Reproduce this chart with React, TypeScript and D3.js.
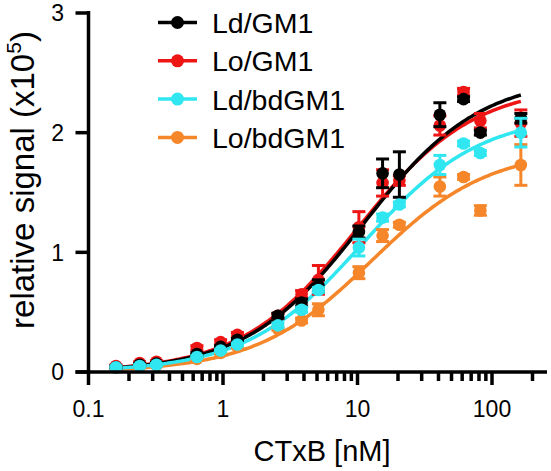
import React from "react";
import * as d3 from "d3";

// ---- data ----
const concentrations = [0.16, 0.24, 0.32, 0.64, 0.96, 1.28, 2.56, 3.84, 5.12, 10.24, 15.36, 20.48, 40.96, 61.44, 81.92, 163.84];

const ldGM1 = [0.04, 0.06, 0.07, 0.15, 0.21, 0.27, 0.47, 0.58, 0.72, 1.17, 1.66, 1.65, 2.15, 2.28, 2.0, 2.12];
const ldGM1Err = [0.01, 0.01, 0.01, 0.01, 0.01, 0.01, 0.02, 0.03, 0.05, 0.05, 0.12, 0.19, 0.1, 0.02, 0.02, 0.04];

const loGM1 = [0.05, 0.075, 0.085, 0.2, 0.25, 0.31, 0.47, 0.65, 0.77, 1.21, 1.58, 1.6, 2.06, 2.34, 2.1, 2.08];
const loGM1Err = [0.01, 0.01, 0.01, 0.02, 0.02, 0.02, 0.02, 0.03, 0.12, 0.13, 0.11, 0.04, 0.08, 0.03, 0.06, 0.11];

const ldBdGM1 = [0.04, 0.05, 0.06, 0.125, 0.18, 0.23, 0.39, 0.52, 0.685, 1.04, 1.29, 1.4, 1.73, 1.91, 1.83, 2.0];
const ldBdGM1Err = [0.01, 0.01, 0.01, 0.01, 0.01, 0.01, 0.02, 0.02, 0.02, 0.07, 0.03, 0.02, 0.08, 0.02, 0.02, 0.12];

const loBdGM1 = [0.04, 0.045, 0.055, 0.11, 0.16, 0.21, 0.36, 0.43, 0.52, 0.83, 1.14, 1.23, 1.55, 1.63, 1.35, 1.73];
const loBdGM1Err = [0.01, 0.01, 0.01, 0.01, 0.01, 0.01, 0.01, 0.02, 0.05, 0.05, 0.05, 0.02, 0.08, 0.02, 0.04, 0.17];

const seriesNames = ["Ld/GM1", "Lo/GM1", "Ld/bdGM1", "Lo/bdGM1"];
// one-site binding fit parameters (Bmax, Kd) per series
const fitBmax = [2.47, 2.4, 2.155, 1.865];
const fitKd = [11, 10, 11, 12.8];

const xTickLabels = ["0.1", "1", "10", "100"];
const yTickLabels = ["0", "1", "2", "3"];

const xTitle = "CTxB [nM]";

export default function App() {
  const W = 551, H = 471;
  const colors = ["#000000", "#ee1515", "#30e6f0", "#f6862a"];
  const values = [ldGM1, loGM1, ldBdGM1, loBdGM1];
  const errors = [ldGM1Err, loGM1Err, ldBdGM1Err, loBdGM1Err];

  const x = d3.scaleLog().domain([0.1, 200]).range([88.5, 532.5]);
  const y = d3.scaleLinear().domain([0, 3]).range([372, 13]);

  const axisY = y(0);
  const axisX = x(0.1);
  const font = "Helvetica, Arial, 'Liberation Sans', sans-serif";

  // tick positions
  const minorTicks: number[] = [];
  for (let e = -1; e <= 2; e++) {
    for (let m = 1; m <= 9; m++) {
      const v = m * Math.pow(10, e);
      if (v <= 200 + 1e-9) minorTicks.push(v);
    }
  }
  const majorValues = xTickLabels.map((t) => +t);

  const curve = (i: number) => {
    const l0 = Math.log10(concentrations[0]);
    const l1 = Math.log10(concentrations[concentrations.length - 1]);
    const xs = d3.range(0, 201).map((k) => Math.pow(10, l0 + (k / 200) * (l1 - l0)));
    const line = d3
      .line<number>()
      .x((c) => x(c))
      .y((c) => y((fitBmax[i] * c) / (fitKd[i] + c)));
    return line(xs) || "";
  };

  const order = [3, 1, 0, 2];
  const sw = 3.5;
  const capHalf = 6.5;

  return (
    <svg width={W} height={H} style={{ position: "absolute", left: 0, top: 0, background: "#fff" }}>
      <rect width={W} height={H} fill="#fff" />
      {/* curves */}
      {order.map((i) => (
        <path key={"c" + i} d={curve(i)} fill="none" stroke={colors[i]} strokeWidth={sw} />
      ))}
      {/* error bars and points */}
      {order.map((i) => (
        <g key={"p" + i} stroke={colors[i]} fill={colors[i]}>
          {concentrations.map((c, j) => {
            const cx = x(c);
            const v = values[i][j];
            const e = errors[i][j];
            const y1 = y(v + e), y2 = y(v - e);
            return (
              <g key={j}>
                <line x1={cx} x2={cx} y1={y1} y2={y2} strokeWidth={3} />
                <line x1={cx - capHalf} x2={cx + capHalf} y1={y1} y2={y1} strokeWidth={3} />
                <line x1={cx - capHalf} x2={cx + capHalf} y1={y2} y2={y2} strokeWidth={3} />
                <circle cx={cx} cy={y(v)} r={6.3} stroke="none" />
              </g>
            );
          })}
        </g>
      ))}

      {/* axes */}
      <g stroke="#000" strokeWidth={sw} fill="none">
        <line x1={axisX} x2={axisX} y1={y(3) - 2} y2={axisY} />
        <line x1={axisX - 13} x2={547} y1={axisY} y2={axisY} />
        {yTickLabels.map((t) => (
          <line key={"yt" + t} x1={axisX - 13} x2={axisX} y1={y(+t)} y2={y(+t)} />
        ))}
        {minorTicks.map((v) => {
          const major = majorValues.some((m) => Math.abs(m - v) < 1e-9);
          return <line key={"xt" + v} x1={x(v)} x2={x(v)} y1={axisY} y2={axisY + (major ? 13 : 9)} />;
        })}
      </g>
      <g fontFamily={font} fontSize={23} fill="#000">
        {yTickLabels.map((t) => (
          <text key={"yl" + t} x={64} y={y(+t)} dy="0.36em" textAnchor="end">
            {t}
          </text>
        ))}
        {xTickLabels.map((t) => (
          <text key={"xl" + t} x={x(+t)} y={417} textAnchor="middle">
            {t}
          </text>
        ))}
      </g>
      <text x={322} y={461} textAnchor="middle" fontFamily={font} fontSize={29}>
        {xTitle}
      </text>
      <text transform="translate(34,180) rotate(-90)" textAnchor="middle" fontFamily={font} fontSize={33}>
        relative signal (x10
        <tspan fontSize={21} dy={-13}>5</tspan>
        <tspan dy={13}>)</tspan>
      </text>

      {/* legend */}
      {seriesNames.map((name, i) => {
        const by = 33 + i * 38.3;
        const my = by - 10.5;
        return (
          <g key={"lg" + i}>
            <line x1={158} x2={197} y1={my} y2={my} stroke={colors[i]} strokeWidth={sw} />
            <circle cx={177.5} cy={my} r={6.5} fill={colors[i]} />
            <text x={212} y={by} fontFamily={font} fontSize={28.5}>
              {name}
            </text>
          </g>
        );
      })}
    </svg>
  );
}
